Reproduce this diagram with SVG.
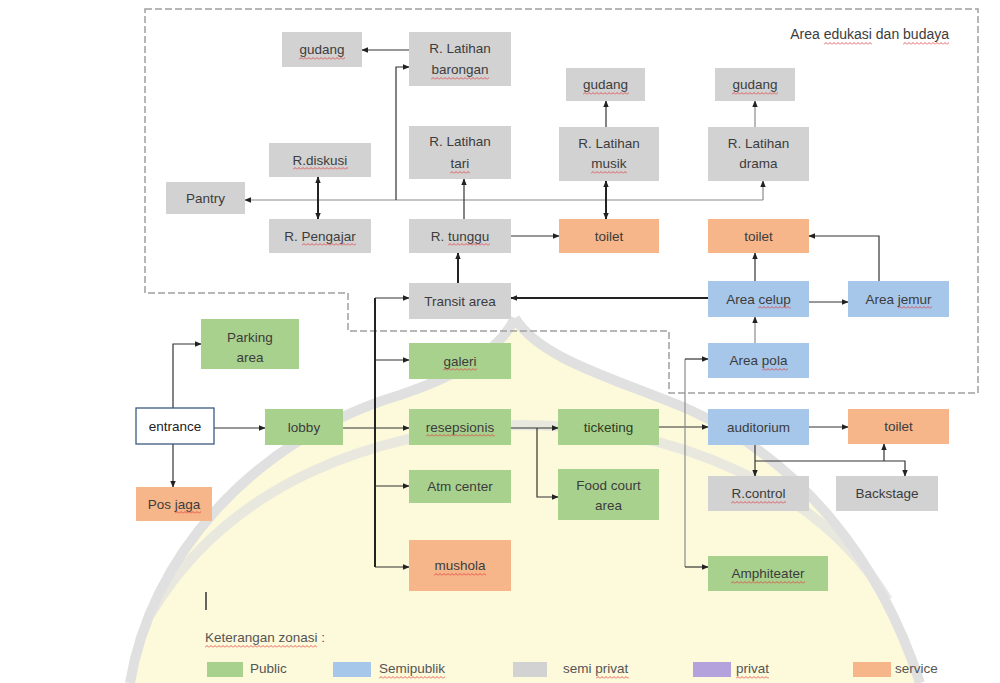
<svg xmlns="http://www.w3.org/2000/svg" width="1000" height="683" viewBox="0 0 1000 683">
<style>
  text { font-family: "Liberation Sans", Arial, sans-serif; font-size: 13.5px; fill: #3c3c3c; text-anchor: middle; }
  .lg { text-anchor: start; fill: #555; }
  .gy { fill: #d2d2d2; }
  .gr { fill: #a9d18e; }
  .bl { fill: #a6c6ea; }
  .or { fill: #f6b68a; }
  .pu { fill: #b4a2dc; }
  .c { fill: none; stroke: #333; stroke-width: 1.2; }
  .cl { fill: none; stroke: #8a8a8a; stroke-width: 1.2; }
  .ct { fill: none; stroke: #222; stroke-width: 2; }
  .a { marker-end: url(#ah); }
  .aa { marker-start: url(#ah); marker-end: url(#ah); }
  .sq { fill: url(#sqp); }
  .wm { fill: none; stroke: #d4d4d4; stroke-width: 10; }
</style>
<defs>
  <marker id="ah" viewBox="0 0 10 10" refX="9" refY="5" markerWidth="7" markerHeight="7" markerUnits="userSpaceOnUse" orient="auto-start-reverse">
    <path d="M0,1 L10,5 L0,9 z" fill="#222"/>
  </marker>
  <pattern id="sqp" width="4" height="3" patternUnits="userSpaceOnUse">
    <path d="M0,2.5 L2,0.5 L4,2.5" fill="none" stroke="#e03a3a" stroke-width="0.8"/>
  </pattern>
</defs>
<rect width="1000" height="683" fill="#ffffff"/>

<g id="watermark" opacity="0.7">
  <path d="M130,683 C150,560 250,440 400,395 C460,375 500,350 515,318 C540,360 620,380 690,410 C800,460 880,560 920,683 Z" fill="#fdf7cc"/>
  <path class="wm" d="M130,683 C150,560 250,440 400,395 C460,375 500,350 515,318"/>
  <path class="wm" d="M515,318 C540,360 620,380 690,410 C800,460 880,560 920,683"/>
  <path class="wm" d="M150,615 C230,480 380,430 520,425 C680,425 820,490 888,600" opacity="0.7"/>
</g>

<path id="zone-border" d="M145,9 L978,9 L978,393 L669,393 L669,331 L348,331 L348,293 L145,293 Z" fill="none" stroke="#a0a0a0" stroke-width="1.5" stroke-dasharray="7 3"/>
<text x="949" y="39" style="text-anchor:end;font-size:14px">Area edukasi dan budaya</text>
<rect class="sq" transform="translate(824,42)" width="48" height="3"/>
<rect class="sq" transform="translate(903,42)" width="46" height="3"/>

<g id="connectors">
  <path class="c a" d="M409,50 L362,50"/>
  <path class="cl a" d="M763,200 L245,200"/>
  <path class="cl a" d="M763,200 L763,181"/>
  <path class="c a" d="M396,200 L396,67 L409,67"/>
  <path class="ct aa" d="M318,177 L318,219"/>
  <path class="c a" d="M464,219 L464,179"/>
  <path class="c a" d="M511,236 L559,236"/>
  <path class="c a" d="M606,127 L606,101"/>
  <path class="cl a" d="M755,127 L755,101"/>
  <path class="ct aa" d="M606,181 L606,219"/>
  <path class="ct a" d="M458,283 L458,253"/>
  <path class="ct a" d="M708,298 L511,298"/>
  <path class="c a" d="M755,281 L755,253"/>
  <path class="c a" d="M899,282 L879,282 L879,236 L809,236"/>
  <path class="c a" d="M809,302 L848,302"/>
  <path class="cl a" d="M755,343 L755,317"/>
  <path class="c a" d="M173,408 L173,344 L201,344"/>
  <path class="c a" d="M214,428 L265,428"/>
  <path class="c a" d="M173,444 L173,487"/>
  <path class="c a" d="M343,428 L409,428"/>
  <path class="c a" d="M511,428 L558,428"/>
  <path class="c a" d="M537,428 L537,497 L558,497"/>
  <path class="ct" d="M375,298 L375,567"/>
  <path class="c a" d="M375,298 L409,298"/>
  <path class="c a" d="M375,360 L409,360"/>
  <path class="c a" d="M375,486 L409,486"/>
  <path class="c a" d="M375,567 L409,567"/>
  <path class="c a" d="M659,427 L708,427"/>
  <path class="c a" d="M809,427 L848,427"/>
  <path class="cl" d="M685,359 L685,567"/>
  <path class="c a" d="M685,359 L708,359"/>
  <path class="c a" d="M685,567 L708,567"/>
  <path class="c a" d="M755,445 L755,476"/>
  <path class="c a" d="M755,461 L905,461 L905,476"/>
  <path class="c a" d="M884,461 L884,444"/>
</g>

<g id="n-gudang1"><rect class="gy" x="282" y="32" width="80" height="35"/><text x="322" y="54">gudang</text><rect class="sq" transform="translate(299,57)" width="46" height="3"/></g>
<g id="n-barongan"><rect class="gy" x="409" y="32" width="102" height="54"/><text x="460" y="53">R. Latihan</text><text x="460" y="74">barongan</text><rect class="sq" transform="translate(431,77)" width="58" height="3"/></g>
<g id="n-diskusi"><rect class="gy" x="269" y="143" width="102" height="34"/><text x="320" y="164.5">R.diskusi</text><rect class="sq" transform="translate(293,167)" width="55" height="3"/></g>
<g id="n-pantry"><rect class="gy" x="166" y="182" width="79" height="32"/><text x="205.5" y="202.5">Pantry</text></g>
<g id="n-pengajar"><rect class="gy" x="269" y="219" width="102" height="34"/><text x="320" y="240.5">R. Pengajar</text><rect class="sq" transform="translate(302,243)" width="54" height="3"/></g>
<g id="n-tari"><rect class="gy" x="409" y="126" width="102" height="53"/><text x="460" y="146">R. Latihan</text><text x="460" y="168">tari</text><rect class="sq" transform="translate(450,171)" width="20" height="3"/></g>
<g id="n-tunggu"><rect class="gy" x="409" y="219" width="102" height="34"/><text x="460" y="240.5">R. tunggu</text><rect class="sq" transform="translate(448,243)" width="42" height="3"/></g>
<g id="n-musik"><rect class="gy" x="559" y="127" width="100" height="54"/><text x="609" y="148">R. Latihan</text><text x="609" y="168">musik</text><rect class="sq" transform="translate(591,171)" width="36" height="3"/></g>
<g id="n-gudang2"><rect class="gy" x="566" y="68" width="79" height="33"/><text x="605.5" y="89">gudang</text><rect class="sq" transform="translate(583,92)" width="46" height="3"/></g>
<g id="n-drama"><rect class="gy" x="708" y="127" width="101" height="54"/><text x="758.5" y="148">R. Latihan</text><text x="758.5" y="168">drama</text></g>
<g id="n-gudang3"><rect class="gy" x="715" y="68" width="80" height="33"/><text x="755" y="89">gudang</text><rect class="sq" transform="translate(732,92)" width="46" height="3"/></g>
<g id="n-toilet1"><rect class="or" x="559" y="219" width="100" height="34"/><text x="609" y="240.5">toilet</text></g>
<g id="n-toilet2"><rect class="or" x="708" y="219" width="101" height="34"/><text x="758.5" y="240.5">toilet</text></g>
<g id="n-transit"><rect class="gy" x="409" y="283" width="102" height="36"/><text x="460" y="305.5">Transit area</text></g>
<g id="n-celup"><rect class="bl" x="708" y="281" width="101" height="36"/><text x="758.5" y="303.5">Area celup</text><rect class="sq" transform="translate(758,306)" width="33" height="3"/></g>
<g id="n-jemur"><rect class="bl" x="848" y="281" width="101" height="36"/><text x="898.5" y="303.5">Area jemur</text><rect class="sq" transform="translate(898,306)" width="34" height="3"/></g>
<g id="n-pola"><rect class="bl" x="708" y="343" width="101" height="35"/><text x="758.5" y="365">Area pola</text><rect class="sq" transform="translate(762,368)" width="26" height="3"/></g>
<g id="n-parking"><rect class="gr" x="201" y="319" width="98" height="50"/><text x="250" y="342">Parking</text><text x="250" y="362">area</text></g>
<g id="n-galeri"><rect class="gr" x="409" y="343" width="102" height="36"/><text x="460" y="365.5">galeri</text><rect class="sq" transform="translate(443,368)" width="34" height="3"/></g>
<g id="n-entrance"><rect x="136" y="408" width="78" height="36" fill="#fff" stroke="#3d5a80" stroke-width="1.3"/><text x="175" y="430.5" style="fill:#222">entrance</text></g>
<g id="n-lobby"><rect class="gr" x="265" y="409" width="78" height="36"/><text x="304" y="431.5">lobby</text></g>
<g id="n-resepsionis"><rect class="gr" x="409" y="409" width="102" height="36"/><text x="460" y="431.5">resepsionis</text><rect class="sq" transform="translate(426,434)" width="69" height="3"/></g>
<g id="n-ticketing"><rect class="gr" x="558" y="409" width="101" height="36"/><text x="608.5" y="431.5" style="fill:#2e3b22">ticketing</text></g>
<g id="n-auditorium"><rect class="bl" x="708" y="409" width="101" height="36"/><text x="758.5" y="431.5">auditorium</text></g>
<g id="n-toilet3"><rect class="or" x="848" y="409" width="101" height="35"/><text x="898.5" y="431">toilet</text></g>
<g id="n-posjaga"><rect class="or" x="136" y="487" width="76" height="34"/><text x="174" y="508.5">Pos jaga</text><rect class="sq" transform="translate(175,511)" width="26" height="3"/></g>
<g id="n-atm"><rect class="gr" x="409" y="470" width="102" height="33"/><text x="460" y="491">Atm center</text></g>
<g id="n-foodcourt"><rect class="gr" x="558" y="469" width="101" height="51"/><text x="608.5" y="490">Food court</text><text x="608.5" y="510">area</text></g>
<g id="n-rcontrol"><rect class="gy" x="708" y="476" width="101" height="35"/><text x="758.5" y="498">R.control</text><rect class="sq" transform="translate(731,501)" width="55" height="3"/></g>
<g id="n-backstage"><rect class="gy" x="836" y="476" width="102" height="35"/><text x="887" y="498">Backstage</text></g>
<g id="n-mushola"><rect class="or" x="409" y="540" width="102" height="51"/><text x="460" y="570">mushola</text><rect class="sq" transform="translate(434,573)" width="52" height="3"/></g>
<g id="n-amphiteater"><rect class="gr" x="708" y="556" width="120" height="35"/><text x="768" y="578">Amphiteater</text><rect class="sq" transform="translate(731,581)" width="74" height="3"/></g>

<g id="legend">
  <line x1="206" y1="592" x2="206" y2="610" stroke="#333" stroke-width="1.5"/>
  <text class="lg" x="205" y="642">Keterangan zonasi :</text>
  <rect class="sq" transform="translate(205,645)" width="112" height="3"/>
  <rect class="gr" x="207" y="662" width="36" height="15"/>
  <text class="lg" x="250" y="673">Public</text>
  <rect class="bl" x="333" y="662" width="38" height="15"/>
  <text class="lg" x="379" y="673">Semipublik</text>
  <rect class="sq" transform="translate(379,676)" width="66" height="3"/>
  <rect class="gy" x="513" y="662" width="34" height="15"/>
  <text class="lg" x="563" y="673">semi privat</text>
  <rect class="sq" transform="translate(596,676)" width="33" height="3"/>
  <rect class="pu" x="693" y="662" width="38" height="15"/>
  <text class="lg" x="736" y="673">privat</text>
  <rect class="sq" transform="translate(736,676)" width="33" height="3"/>
  <rect class="or" x="853" y="662" width="38" height="15"/>
  <text class="lg" x="895" y="673">service</text>
</g>
</svg>
